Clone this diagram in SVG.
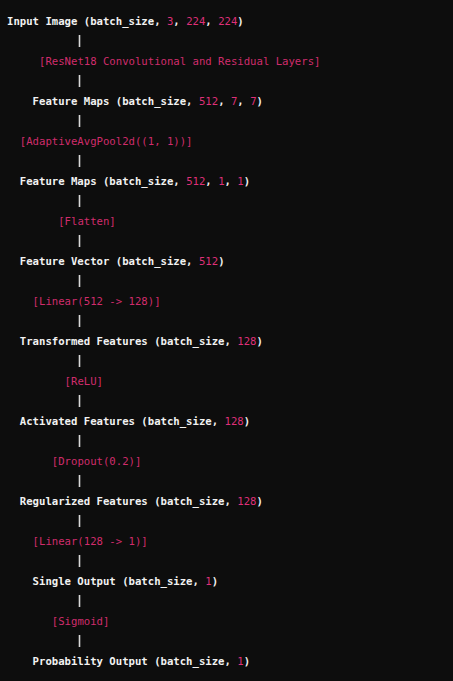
<svg xmlns="http://www.w3.org/2000/svg" width="453" height="681" viewBox="0 0 453 681">
<style>
text{font-family:"DejaVu Sans Mono","Liberation Mono",monospace;font-size:10.63px;white-space:pre}
.n{fill:#f2f2f2;font-weight:bold}
.num{fill:#df3079;font-weight:normal}
.op{fill:#d02c6c}
.c line{stroke:#d8d8d8;stroke-width:1.6}
</style>
<rect width="453" height="681" fill="#0d0d0d"/>
<g class="c" id="connectors">
<line x1="79.5" y1="35" x2="79.5" y2="47"/>
<line x1="79.5" y1="75" x2="79.5" y2="87"/>
<line x1="79.5" y1="115" x2="79.5" y2="127"/>
<line x1="79.5" y1="155" x2="79.5" y2="167"/>
<line x1="79.5" y1="195" x2="79.5" y2="207"/>
<line x1="79.5" y1="235" x2="79.5" y2="247"/>
<line x1="79.5" y1="275" x2="79.5" y2="287"/>
<line x1="79.5" y1="315" x2="79.5" y2="327"/>
<line x1="79.5" y1="355" x2="79.5" y2="367"/>
<line x1="79.5" y1="395" x2="79.5" y2="407"/>
<line x1="79.5" y1="435" x2="79.5" y2="447"/>
<line x1="79.5" y1="475" x2="79.5" y2="487"/>
<line x1="79.5" y1="515" x2="79.5" y2="527"/>
<line x1="79.5" y1="555" x2="79.5" y2="567"/>
<line x1="79.5" y1="595" x2="79.5" y2="607"/>
<line x1="79.5" y1="635" x2="79.5" y2="647"/>
</g>
<g id="input"><text class="n" x="7" y="24.5">Input Image (batch_size, <tspan class="num">3</tspan>, <tspan class="num">224</tspan>, <tspan class="num">224</tspan>)</text></g>
<g id="resnet"><text class="op" x="39" y="64.5">[ResNet18 Convolutional and Residual Layers]</text></g>
<g id="fmaps1"><text class="n" x="32.6" y="104.5">Feature Maps (batch_size, <tspan class="num">512</tspan>, <tspan class="num">7</tspan>, <tspan class="num">7</tspan>)</text></g>
<g id="pool"><text class="op" x="19.8" y="144.5">[AdaptiveAvgPool2d((1, 1))]</text></g>
<g id="fmaps2"><text class="n" x="19.8" y="184.5">Feature Maps (batch_size, <tspan class="num">512</tspan>, <tspan class="num">1</tspan>, <tspan class="num">1</tspan>)</text></g>
<g id="flatten"><text class="op" x="58.2" y="224.5">[Flatten]</text></g>
<g id="fvec"><text class="n" x="19.8" y="264.5">Feature Vector (batch_size, <tspan class="num">512</tspan>)</text></g>
<g id="linear1"><text class="op" x="32.6" y="304.5">[Linear(512 -&gt; 128)]</text></g>
<g id="transformed"><text class="n" x="19.8" y="344.5">Transformed Features (batch_size, <tspan class="num">128</tspan>)</text></g>
<g id="relu"><text class="op" x="64.6" y="384.5">[ReLU]</text></g>
<g id="activated"><text class="n" x="19.8" y="424.5">Activated Features (batch_size, <tspan class="num">128</tspan>)</text></g>
<g id="dropout"><text class="op" x="51.8" y="464.5">[Dropout(0.2)]</text></g>
<g id="regularized"><text class="n" x="19.8" y="504.5">Regularized Features (batch_size, <tspan class="num">128</tspan>)</text></g>
<g id="linear2"><text class="op" x="32.6" y="544.5">[Linear(128 -&gt; 1)]</text></g>
<g id="single"><text class="n" x="32.6" y="584.5">Single Output (batch_size, <tspan class="num">1</tspan>)</text></g>
<g id="sigmoid"><text class="op" x="51.8" y="624.5">[Sigmoid]</text></g>
<g id="prob"><text class="n" x="32.6" y="664.5">Probability Output (batch_size, <tspan class="num">1</tspan>)</text></g>
</svg>
